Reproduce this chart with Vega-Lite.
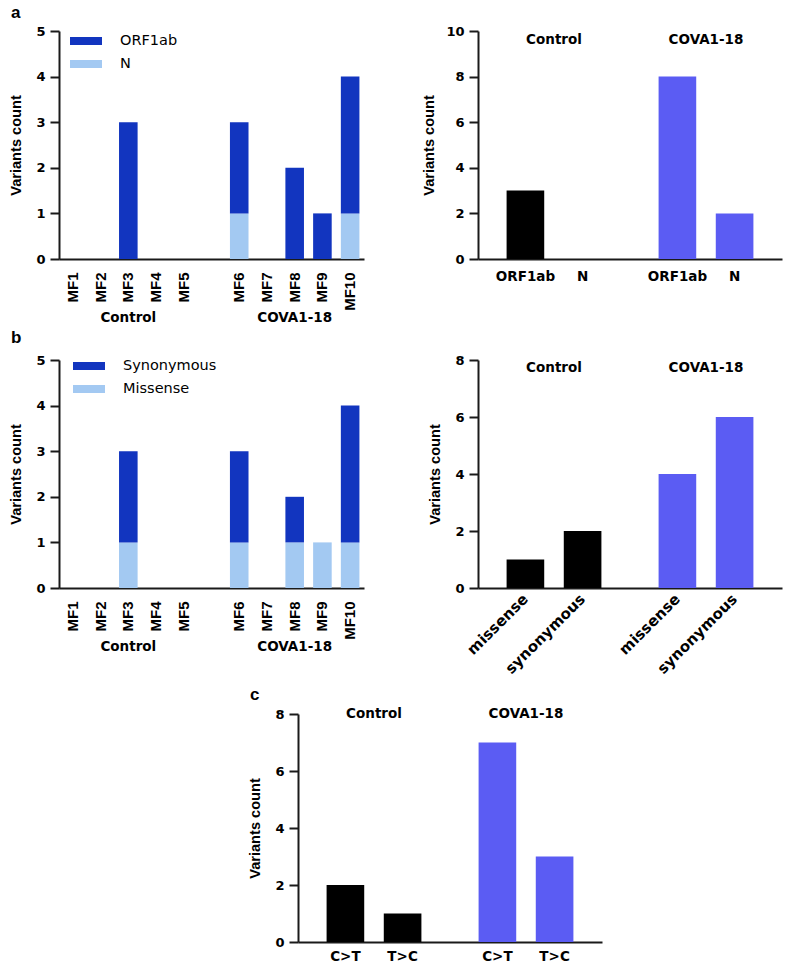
{
  "$schema": "https://vega.github.io/schema/vega-lite/v6.json",
  "padding": {"left": 8, "top": 4, "right": 4, "bottom": 0},
  "config": {
    "font": "DejaVu Sans",
    "view": {"stroke": null},
    "axis": {"labelFont": "DejaVu Sans", "labelFontWeight": "bold", "labelFontSize": 13, "labelColor": "#000", "titleFont": "Liberation Sans", "titleFontWeight": "bold", "titleFontSize": 14.6, "titleColor": "#000", "titlePadding": 12, "domainColor": "#1a1a1a", "domainWidth": 2, "tickColor": "#1a1a1a", "tickWidth": 2, "tickSize": 9, "labelPadding": 5, "grid": false},
    "text": {"font": "DejaVu Sans", "fontSize": 13.5, "fontWeight": "bold", "color": "#000"},
    "title": {"font": "Liberation Sans", "fontSize": 17, "fontWeight": "bold", "anchor": "start", "color": "#000", "offset": 3, "frame": "bounds", "dx": 2}
  },
  "resolve": {"scale": {"color": "independent", "x": "independent", "y": "independent", "xOffset": "independent"}},
  "spacing": 9,
  "vconcat": [
    {
      "resolve": {"scale": {"color": "independent", "x": "independent", "y": "independent", "xOffset": "independent"}},
      "spacing": 4,
      "vconcat": [
        {
          "title": {"text": "a"},
          "spacing": 57,
          "resolve": {"scale": {"color": "independent", "x": "independent", "y": "independent", "xOffset": "independent"}},
          "hconcat": [
            {
              "width": 305, "height": 228,
              "layer": [
                {
                  "data": {"values": [
                    {"sample": "MF3", "gene": "ORF1ab", "count": 3},
                    {"sample": "MF6", "gene": "N", "count": 1},
                    {"sample": "MF6", "gene": "ORF1ab", "count": 2},
                    {"sample": "MF8", "gene": "ORF1ab", "count": 2},
                    {"sample": "MF9", "gene": "ORF1ab", "count": 1},
                    {"sample": "MF10", "gene": "N", "count": 1},
                    {"sample": "MF10", "gene": "ORF1ab", "count": 3}
                  ]},
                  "mark": {"type": "bar"},
                  "encoding": {
                    "x": {"field": "sample", "type": "nominal", "scale": {"domain": ["MF1", "MF2", "MF3", "MF4", "MF5", "gap", "MF6", "MF7", "MF8", "MF9", "MF10"], "paddingInner": 0.33, "paddingOuter": 0.165}, "axis": {"title": null, "labelAngle": -90, "ticks": false, "labelPadding": 13, "labelFont": "Liberation Sans", "labelFontSize": 15, "labelExpr": "datum.value == 'gap' ? '' : datum.value"}},
                    "y": {"field": "count", "type": "quantitative", "stack": "zero", "scale": {"domain": [0, 5], "nice": false}, "axis": {"title": "Variants count", "values": [0, 1, 2, 3, 4, 5]}},
                    "color": {"field": "gene", "type": "nominal", "scale": {"domain": ["ORF1ab", "N"], "range": ["#1235BF", "#A3C9F2"]}, "legend": {"title": null, "orient": "none", "legendX": 11, "legendY": -6, "padding": 0, "symbolType": "M-1,-0.25L1,-0.25L1,0.25L-1,0.25Z", "symbolSize": 1024, "symbolStrokeWidth": 0, "labelFont": "DejaVu Sans", "labelFontSize": 14.5, "labelFontWeight": "normal", "labelColor": "#000", "labelOffset": 18, "rowPadding": -5}},
                    "order": {"field": "gene", "sort": "ascending"}
                  }
                },
                {
                  "data": {"values": [{"label": "Control", "at": "MF3"}, {"label": "COVA1-18", "at": "MF8"}]},
                  "mark": {"type": "text"},
                  "encoding": {
                    "x": {"field": "at", "type": "nominal"},
                    "y": {"datum": -1.29},
                    "text": {"field": "label"}
                  }
                }
              ]
            },
            {
              "width": 304, "height": 228,
              "data": {"values": [
                {"group": "Control", "gene": "ORF1ab", "count": 3},
                {"group": "Control", "gene": "N", "count": 0},
                {"group": "COVA1-18", "gene": "ORF1ab", "count": 8},
                {"group": "COVA1-18", "gene": "N", "count": 2}
              ]},
              "layer": [
                {
                  "mark": {"type": "bar"},
                  "encoding": {
                    "x": {"field": "group", "type": "nominal", "scale": {"domain": ["Control", "COVA1-18"], "paddingInner": 0, "paddingOuter": 0}, "axis": {"title": null, "labels": false, "ticks": false}},
                    "xOffset": {"field": "gene", "type": "nominal", "scale": {"domain": ["ORF1ab", "N"], "paddingInner": 0.342, "paddingOuter": 0.5}},
                    "y": {"field": "count", "type": "quantitative", "scale": {"domain": [0, 10], "nice": false}, "axis": {"title": "Variants count", "titlePadding": 9, "values": [0, 2, 4, 6, 8, 10]}},
                    "color": {"field": "group", "type": "nominal", "scale": {"domain": ["Control", "COVA1-18"], "range": ["#000000", "#5B5CF3"]}, "legend": null}
                  }
                },
                {
                  "mark": {"type": "text"},
                  "encoding": {
                    "x": {"field": "group", "type": "nominal"},
                    "xOffset": {"field": "gene", "type": "nominal"},
                    "y": {"datum": -0.79},
                    "text": {"field": "gene"}
                  }
                },
                {
                  "data": {"values": [{"group": "Control"}, {"group": "COVA1-18"}]},
                  "mark": {"type": "text"},
                  "encoding": {
                    "x": {"field": "group", "type": "nominal"},
                    "y": {"datum": 9.6},
                    "text": {"field": "group"}
                  }
                }
              ]
            }
          ]
        },
        {
          "title": {"text": "b"},
          "spacing": 63,
          "resolve": {"scale": {"color": "independent", "x": "independent", "y": "independent", "xOffset": "independent"}},
          "hconcat": [
            {
              "width": 305, "height": 228,
              "layer": [
                {
                  "data": {"values": [
                    {"sample": "MF3", "type": "Missense", "count": 1},
                    {"sample": "MF3", "type": "Synonymous", "count": 2},
                    {"sample": "MF6", "type": "Missense", "count": 1},
                    {"sample": "MF6", "type": "Synonymous", "count": 2},
                    {"sample": "MF8", "type": "Missense", "count": 1},
                    {"sample": "MF8", "type": "Synonymous", "count": 1},
                    {"sample": "MF9", "type": "Missense", "count": 1},
                    {"sample": "MF10", "type": "Missense", "count": 1},
                    {"sample": "MF10", "type": "Synonymous", "count": 3}
                  ]},
                  "mark": {"type": "bar"},
                  "encoding": {
                    "x": {"field": "sample", "type": "nominal", "scale": {"domain": ["MF1", "MF2", "MF3", "MF4", "MF5", "gap", "MF6", "MF7", "MF8", "MF9", "MF10"], "paddingInner": 0.33, "paddingOuter": 0.165}, "axis": {"title": null, "labelAngle": -90, "ticks": false, "labelPadding": 13, "labelFont": "Liberation Sans", "labelFontSize": 15, "labelExpr": "datum.value == 'gap' ? '' : datum.value"}},
                    "y": {"field": "count", "type": "quantitative", "stack": "zero", "scale": {"domain": [0, 5], "nice": false}, "axis": {"title": "Variants count", "values": [0, 1, 2, 3, 4, 5]}},
                    "color": {"field": "type", "type": "nominal", "scale": {"domain": ["Synonymous", "Missense"], "range": ["#1235BF", "#A3C9F2"]}, "legend": {"title": null, "orient": "none", "legendX": 14, "legendY": -10, "padding": 0, "symbolType": "M-1,-0.25L1,-0.25L1,0.25L-1,0.25Z", "symbolSize": 1024, "symbolStrokeWidth": 0, "labelFont": "DejaVu Sans", "labelFontSize": 14.5, "labelFontWeight": "normal", "labelColor": "#000", "labelOffset": 18, "rowPadding": -4}},
                    "order": {"field": "type", "sort": "ascending"}
                  }
                },
                {
                  "data": {"values": [{"label": "Control", "at": "MF3"}, {"label": "COVA1-18", "at": "MF8"}]},
                  "mark": {"type": "text"},
                  "encoding": {
                    "x": {"field": "at", "type": "nominal"},
                    "y": {"datum": -1.29},
                    "text": {"field": "label"}
                  }
                }
              ]
            },
            {
              "width": 304, "height": 228,
              "data": {"values": [
                {"group": "Control", "type": "missense", "count": 1},
                {"group": "Control", "type": "synonymous", "count": 2},
                {"group": "COVA1-18", "type": "missense", "count": 4},
                {"group": "COVA1-18", "type": "synonymous", "count": 6}
              ]},
              "layer": [
                {
                  "mark": {"type": "bar"},
                  "encoding": {
                    "x": {"field": "group", "type": "nominal", "scale": {"domain": ["Control", "COVA1-18"], "paddingInner": 0, "paddingOuter": 0}, "axis": {"title": null, "labels": false, "ticks": false}},
                    "xOffset": {"field": "type", "type": "nominal", "scale": {"domain": ["missense", "synonymous"], "paddingInner": 0.342, "paddingOuter": 0.5}},
                    "y": {"field": "count", "type": "quantitative", "scale": {"domain": [0, 8], "nice": false}, "axis": {"title": "Variants count", "values": [0, 2, 4, 6, 8]}},
                    "color": {"field": "group", "type": "nominal", "scale": {"domain": ["Control", "COVA1-18"], "range": ["#000000", "#5B5CF3"]}, "legend": null}
                  }
                },
                {
                  "mark": {"type": "text", "angle": 315, "align": "right", "baseline": "middle", "fontSize": 15},
                  "encoding": {
                    "x": {"field": "group", "type": "nominal"},
                    "xOffset": {"field": "type", "type": "nominal"},
                    "y": {"datum": -0.3},
                    "text": {"field": "type"}
                  }
                },
                {
                  "data": {"values": [{"group": "Control"}, {"group": "COVA1-18"}]},
                  "mark": {"type": "text"},
                  "encoding": {
                    "x": {"field": "group", "type": "nominal"},
                    "y": {"datum": 7.72},
                    "text": {"field": "group"}
                  }
                }
              ]
            }
          ]
        }
      ]
    },
    {
      "spacing": 10,
      "resolve": {"scale": {"color": "independent", "x": "independent", "y": "independent", "xOffset": "independent"}},
      "hconcat": [
        {
          "width": 178, "height": 228,
          "data": {"values": [{"v": 0}]},
          "mark": {"type": "point", "opacity": 0},
          "encoding": {}
        },
        {
          "title": {"text": "c"},
          "width": 304, "height": 228,
          "data": {"values": [
            {"group": "Control", "mutation": "C>T", "count": 2},
            {"group": "Control", "mutation": "T>C", "count": 1},
            {"group": "COVA1-18", "mutation": "C>T", "count": 7},
            {"group": "COVA1-18", "mutation": "T>C", "count": 3}
          ]},
          "layer": [
            {
              "mark": {"type": "bar"},
              "encoding": {
                "x": {"field": "group", "type": "nominal", "scale": {"domain": ["Control", "COVA1-18"], "paddingInner": 0, "paddingOuter": 0}, "axis": {"title": null, "labels": false, "ticks": false}},
                "xOffset": {"field": "mutation", "type": "nominal", "scale": {"domain": ["C>T", "T>C"], "paddingInner": 0.342, "paddingOuter": 0.5}},
                "y": {"field": "count", "type": "quantitative", "scale": {"domain": [0, 8], "nice": false}, "axis": {"title": "Variants count", "values": [0, 2, 4, 6, 8]}},
                "color": {"field": "group", "type": "nominal", "scale": {"domain": ["Control", "COVA1-18"], "range": ["#000000", "#5B5CF3"]}, "legend": null}
              }
            },
            {
              "mark": {"type": "text"},
              "encoding": {
                "x": {"field": "group", "type": "nominal"},
                "xOffset": {"field": "mutation", "type": "nominal"},
                "y": {"datum": -0.53},
                "text": {"field": "mutation"}
              }
            },
            {
              "data": {"values": [{"group": "Control"}, {"group": "COVA1-18"}]},
              "mark": {"type": "text"},
              "encoding": {
                "x": {"field": "group", "type": "nominal"},
                "y": {"datum": 8},
                "text": {"field": "group"}
              }
            }
          ]
        }
      ]
    }
  ]
}
